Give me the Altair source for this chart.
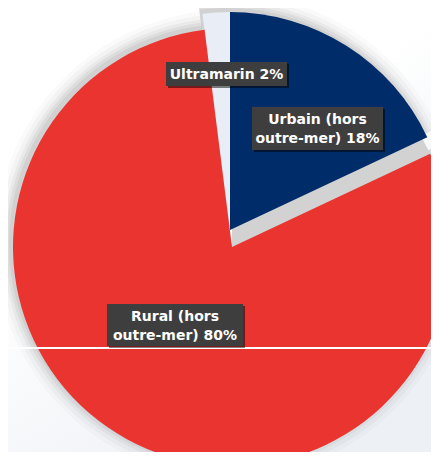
import altair as alt
import pandas as pd
import numpy as np

# ---- data ----
categories = ["Urbain (hors outre-mer)", "Rural (hors outre-mer)", "Ultramarin"]
values = [18, 80, 2]
label_texts = ["Urbain (hors\noutre-mer) 18%", "Rural (hors\noutre-mer) 80%", "Ultramarin 2%"]
colors = ["#002D6A", "#EA3430", "#E9EDF6"]

ends = np.cumsum(values)
starts = ends - np.array(values)
df = pd.DataFrame({"cat": categories, "value": values, "start": starts, "end": ends,
                   "label": label_texts})

W, H = 423, 444
TAU = 2 * np.pi
LH = 19

theta = alt.Theta("start:Q", scale=alt.Scale(domain=[0, 100], range=[0, TAU]))
theta2 = alt.Theta2("end:Q")
color_scale = alt.Color("cat:N", scale=alt.Scale(domain=categories, range=colors), legend=None)

# slice geometry (exploded pie): centre and radius per slice
geom = {
    "Urbain (hors outre-mer)": (222, 222, 218),
    "Rural (hors outre-mer)": (224, 239, 219),
    "Ultramarin": (222, 224, 220),
}


def slice_layer(cat, cx, cy, r, color=None, opacity=1.0):
    enc = dict(theta=theta, theta2=theta2, x=alt.value(cx), y=alt.value(cy))
    enc["color"] = alt.value(color) if color else color_scale
    return (alt.Chart(df).transform_filter(alt.datum.cat == cat)
            .mark_arc(outerRadius=r, opacity=opacity).encode(**enc))


layers = []

# background gradient
bg = alt.Chart(df).mark_rect(
    color=alt.LinearGradient(gradient="linear",
                             stops=[alt.GradientStop(color="#ffffff", offset=0.45),
                                    alt.GradientStop(color="#edf0f5", offset=1)],
                             x1=0, y1=0, x2=0.6, y2=1)
).encode(x=alt.value(0), x2=alt.value(W), y=alt.value(0), y2=alt.value(H))
layers.append(bg)

# soft shadows (offset to the upper left)
for extra, op in [(16, 0.03), (12, 0.04), (8, 0.06), (5, 0.08), (2, 0.09)]:
    for cat in categories:
        cx, cy, r = geom[cat]
        layers.append(slice_layer(cat, cx - 3, cy - 3, r + extra - 1, color="#555555", opacity=op))

# depth face below the Urbain slice
ux, uy, ur = geom["Rural (hors outre-mer)"]
layers.append(slice_layer("Urbain (hors outre-mer)", ux, uy, ur, color="#D2D2D2"))

for cat in ["Ultramarin", "Rural (hors outre-mer)", "Urbain (hors outre-mer)"]:
    cx, cy, r = geom[cat]
    layers.append(slice_layer(cat, cx, cy, r))

# thin white horizontal line
layers.append(alt.Chart(df).mark_rule(color="white", strokeWidth=2).encode(
    x=alt.value(0), x2=alt.value(W), y=alt.value(340)))

# label boxes and texts
boxes = {
    "Ultramarin": (158, 279, 54, 78, 1),
    "Urbain (hors outre-mer)": (244, 375, 99, 142, 2),
    "Rural (hors outre-mer)": (99, 235, 296, 338, 2),
}
for cat in categories:
    x1, x2, y1, y2, nl = boxes[cat]
    layers.append(alt.Chart(df).mark_rect(color="#000000", opacity=0.2).encode(
        x=alt.value(x1 + 2), x2=alt.value(x2 + 2), y=alt.value(y1 + 2), y2=alt.value(y2 + 2)))
    layers.append(alt.Chart(df).mark_rect(color="#3E3E3E").encode(
        x=alt.value(x1), x2=alt.value(x2), y=alt.value(y1), y2=alt.value(y2)))
    ty = (y1 + y2) / 2 - (nl - 1) * LH / 2 + 1
    layers.append(alt.Chart(df).transform_filter(alt.datum.cat == cat).mark_text(
        font="DejaVu Sans", fontSize=14, fontWeight="bold", color="white",
        lineBreak="\n", lineHeight=LH, align="center", baseline="middle"
    ).encode(x=alt.value((x1 + x2) / 2), y=alt.value(ty), text=alt.Text("label:N")))

chart = alt.layer(*layers).properties(
    width=W, height=H, padding=0, autosize="none"
).configure_view(strokeWidth=0)

chart.save("out.html", embed_options={"renderer": "svg", "actions": False})
